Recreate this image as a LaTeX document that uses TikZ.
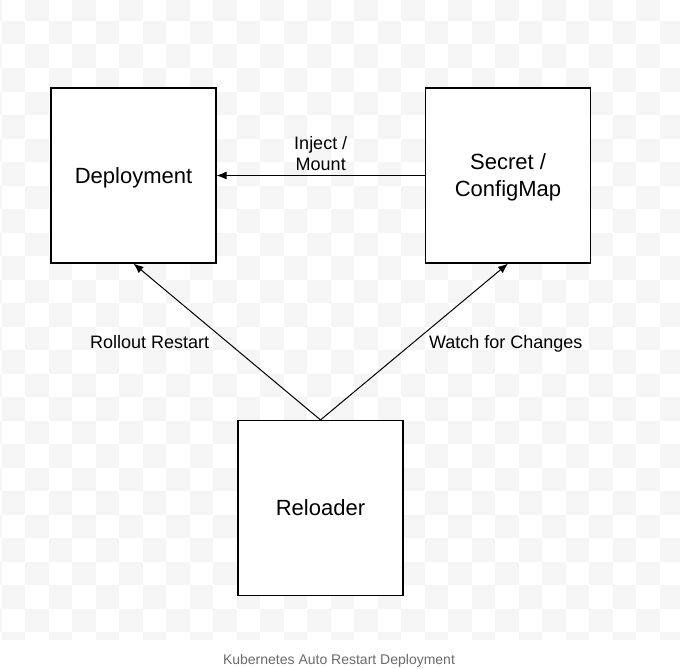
\documentclass[tikz,border=0pt]{standalone}
\usepackage{fontspec}
\setmainfont{Liberation Sans}
\usetikzlibrary{arrows.meta}

\begin{document}
\begin{tikzpicture}[
		x=1pt, y=-1pt,
		box/.style={draw=black, fill=white, line width=1.1pt, minimum width=165pt,
			minimum height=175pt, align=center, inner sep=0pt, text depth=0pt,
			font=\fontsize{22}{27}\selectfont},
		link/.style={->, >={Latex[length=10pt,width=8pt]}, line width=1pt},
		lbl/.style={font=\fontsize{18}{21}\selectfont, align=center, text depth=0pt},
		check/.style={fill=black!4, draw=none}
	]
		\useasboundingbox (0,0) rectangle (680,669);
		\fill[white] (0,0) rectangle (680,669);
		\begin{scope}
			\clip (0,0) rectangle (680,639);
			\foreach \i in {-1,...,28}
				\foreach \j in {0,...,27} {
					\pgfmathtruncatemacro{\s}{\i+\j}
					\ifodd\s \fill[check] (1.5+23.5*\i, -2.5+23.5*\j) rectangle ++(23.5,23.5); \fi
				}
		\end{scope}
		\node[box] (dep) at (133.5,175.5) {Deployment};
		\node[box] (secret) at (508,175.5) {Secret /\\ConfigMap};
		\node[box] (reloader) at (320.5,508) {Reloader};
		\draw[link] (secret) -- (dep) node[lbl, midway, above=1.5pt] {Inject /\\Mount};
		\draw[link] (reloader.north) -- (dep.south)
			node[lbl, midway, left=14pt] {Rollout Restart};
		\draw[link] (reloader.north) -- (secret.south)
			node[lbl, midway, right=11pt] {Watch for Changes};
		\node[font=\fontsize{14}{16}\selectfont, text=black!58] (caption) at (339,661)
			{Kubernetes Auto Restart Deployment};
	\end{tikzpicture}
\end{document}
